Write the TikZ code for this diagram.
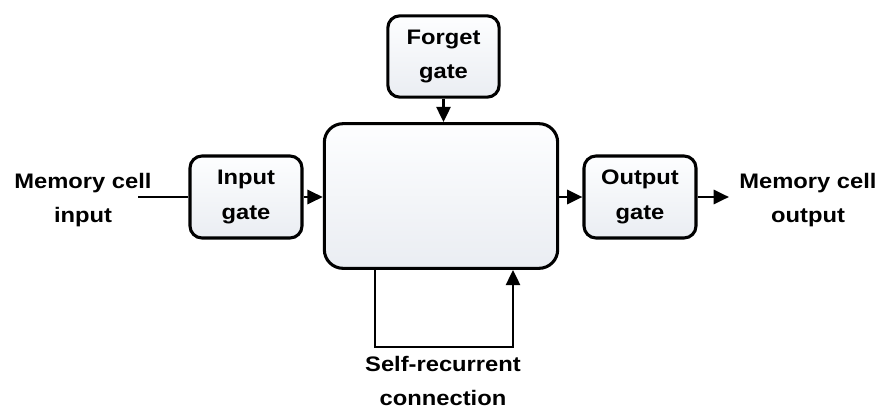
\documentclass[tikz,border=0pt]{standalone}
\usepackage{fontspec}
\setmainfont{Liberation Sans}[FakeStretch=1.13]
\usetikzlibrary{arrows.meta}
\definecolor{boxbot}{RGB}{234,237,242}
\definecolor{boxtop}{RGB}{253,254,255}
\tikzset{
  gatebox/.style={draw=black, line width=2.3pt, rounded corners=9pt,
    top color=boxtop, bottom color=boxbot, align=center,
    font=\bfseries\fontsize{15.75}{26}\selectfont, inner sep=0pt},
  lbl/.style={align=center, font=\bfseries\fontsize{15.75}{26}\selectfont, inner sep=0pt},
  arr/.style={line width=2.2pt, -{Triangle[length=11.5pt,width=10.5pt]}},
  ln/.style={line width=2.2pt},
}
\begin{document}
\begin{tikzpicture}[x=0.75pt,y=-0.75pt]
\useasboundingbox (0,0) rectangle (888,410);
\node[gatebox, minimum width=84pt, minimum height=61.5pt] (in) at (246,197) {Input\\gate};
\node[gatebox, minimum width=83.5pt, minimum height=61pt] (fg) at (443.5,56.5) {Forget\\gate};
\node[gatebox, rounded corners=14pt, minimum width=175pt, minimum height=108.5pt] (main) at (441,196) {};
\node[gatebox, minimum width=84pt, minimum height=61.5pt] (out) at (640,197) {Output\\gate};
\node[lbl] (mi) at (83,200) {Memory cell\\input};
\node[lbl] (mo) at (808,200) {Memory cell\\output};
\node[lbl] (sr) at (443,381) {Self-recurrent\\connection};
\coordinate (ins) at (138,197);
\coordinate (oute) at (729,197);
\coordinate (sl) at (375,347);
\coordinate (srr) at (513,347);
\draw[ln] (ins) -- (in.west);
\draw[arr] (in.east) -- (main.west |- in.east);
\draw[arr] (fg.south) -- (main.north -| fg.south);
\draw[arr] (main.east |- out.west) -- (out.west);
\draw[arr] (out.east) -- (oute);
\draw[arr] (main.south -| sl) -- (sl) -- (srr) -- (main.south -| srr);
\end{tikzpicture}
\end{document}
